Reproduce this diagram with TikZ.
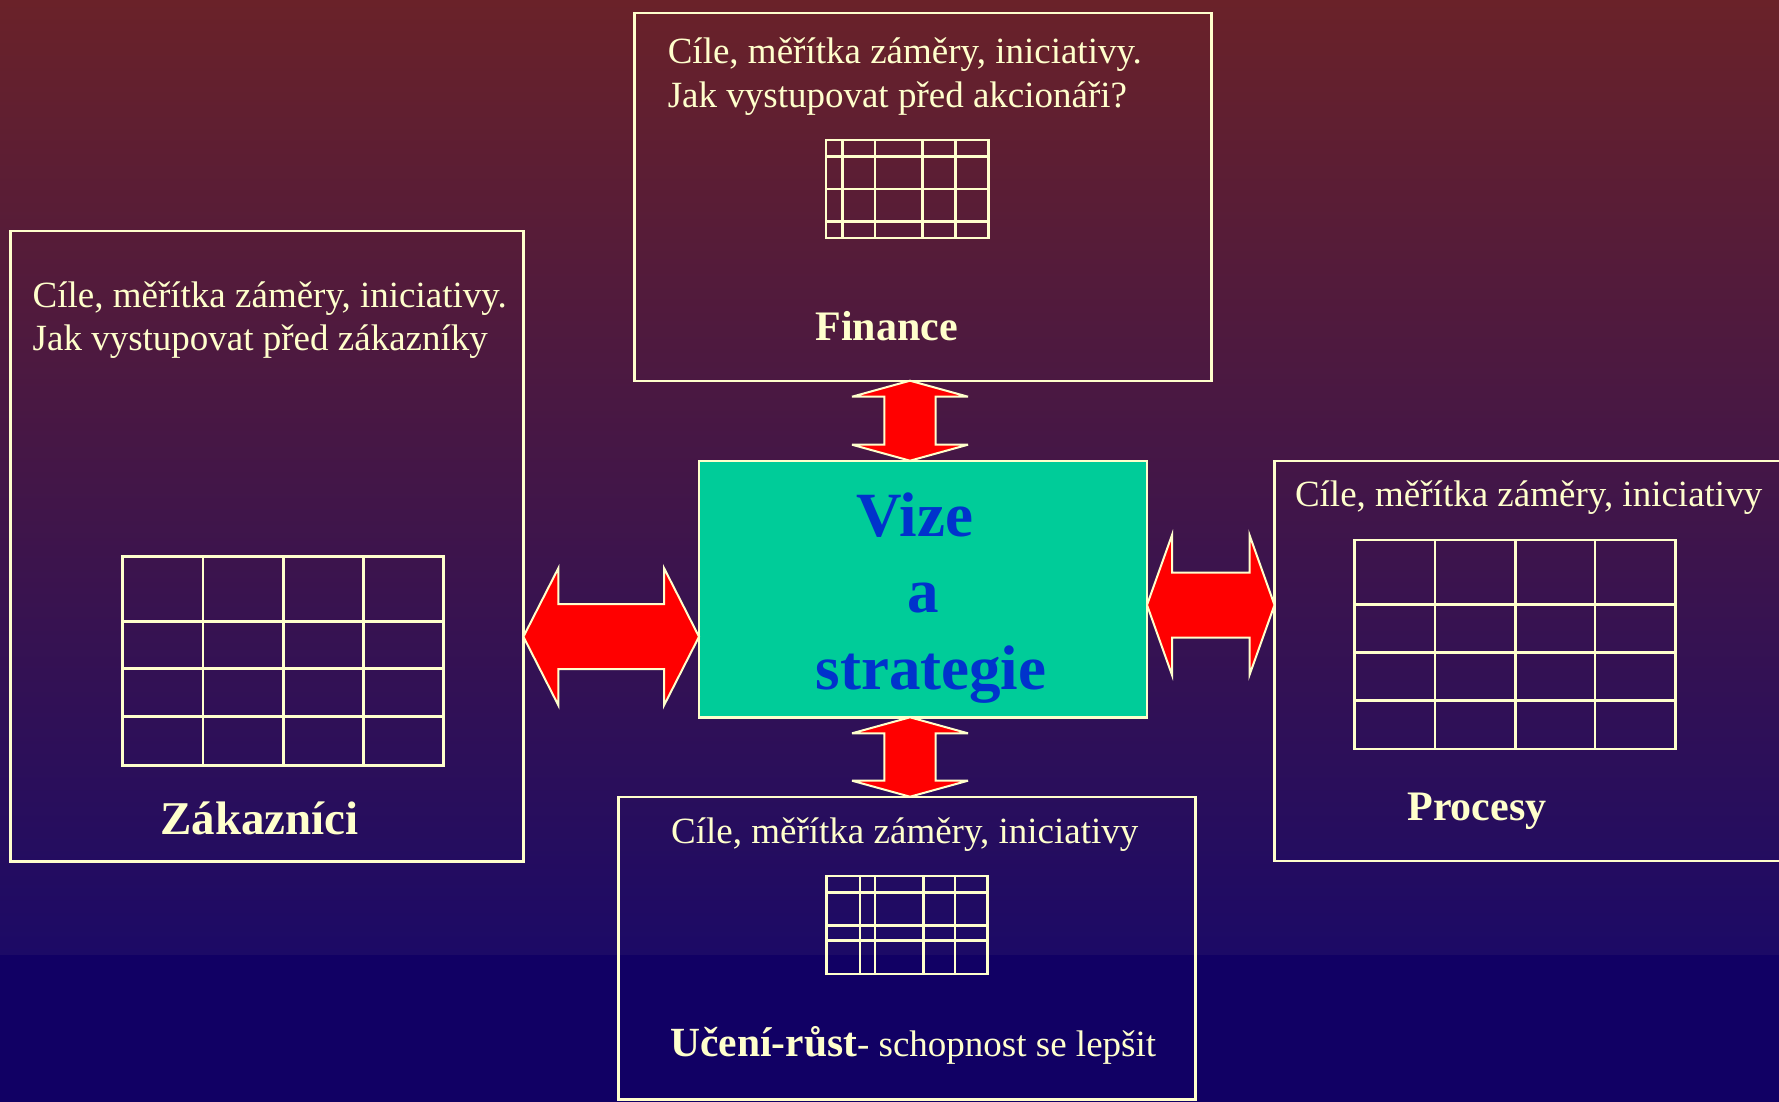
\documentclass[tikz,border=0pt]{standalone}
\usepackage{fontspec}
\setmainfont{Liberation Serif}
\usetikzlibrary{calc}
\definecolor{cream}{RGB}{255,255,204}
\definecolor{bgtop}{RGB}{106,34,41}
\definecolor{bgmid}{RGB}{28,10,102}
\definecolor{bgbot}{RGB}{17,0,100}
\definecolor{vizefill}{RGB}{0,204,153}
\definecolor{vizeblue}{RGB}{0,51,204}
% vertical double block arrow: #1 top tip, #2 bottom tip, #3 head length, #4 half head width, #5 half shaft width
\newcommand{\bsVarrow}[5]{%
  \draw[bigarrow] (#1) -- ($(#1)+(#4,#3)$) -- ($(#1)+(#5,#3)$) -- ($(#2)+(#5,-#3)$) -- ($(#2)+(#4,-#3)$) -- (#2)
   -- ($(#2)+(-#4,-#3)$) -- ($(#2)+(-#5,-#3)$) -- ($(#1)+(-#5,#3)$) -- ($(#1)+(-#4,#3)$) -- cycle;}
% horizontal double block arrow: #1 left tip, #2 right tip
\newcommand{\bsHarrow}[5]{%
  \draw[bigarrow] (#1) -- ($(#1)+(#3,-#4)$) -- ($(#1)+(#3,-#5)$) -- ($(#2)+(-#3,-#5)$) -- ($(#2)+(-#3,-#4)$) -- (#2)
   -- ($(#2)+(-#3,#4)$) -- ($(#2)+(-#3,#5)$) -- ($(#1)+(#3,#5)$) -- ($(#1)+(#3,#4)$) -- cycle;}
\tikzset{
  box/.style={draw=cream, line width=2.4pt, inner sep=0pt, outer sep=0pt, anchor=north west},
  txt/.style={text=cream, inner sep=0pt, outer sep=0pt, anchor=base west, font=\fontsize{37}{44}\selectfont},
  ttl/.style={text=cream, inner sep=0pt, outer sep=0pt, anchor=base, font=\fontsize{42}{50}\selectfont\bfseries},
  vz/.style={text=vizeblue, inner sep=0pt, outer sep=0pt, anchor=base, font=\fontsize{63}{76}\selectfont\bfseries},
  tbl/.style={draw=cream, line width=2.6pt},
  bigarrow/.style={fill=red, draw=cream, line width=2pt, miter limit=6},
}
\begin{document}
\begin{tikzpicture}[x=1pt, y=-1pt]
\useasboundingbox (0,0) rectangle (1779,1101);
\begin{scope}
\clip (0,0) rectangle (1779,1101);
% background
\shade[top color=bgtop, bottom color=bgmid] (0,0) rectangle (1779,955);
\fill[bgbot] (0,955) rectangle (1779,1101.5);

% boxes
\node[box, minimum width=576.8pt, minimum height=368pt] (fin) at (634.5,12.7) {};
\node[box, minimum width=513.1pt, minimum height=630.2pt] (cust) at (10.3,231.2) {};
\node[box, minimum width=530pt, minimum height=400pt] (proc) at (1274.5,460.7) {};
\node[box, minimum width=576.9pt, minimum height=302.6pt] (learn) at (618.6,796.7) {};
\node[box, fill=vizefill, minimum width=448pt, minimum height=256.6pt] (vize) at (699,460.7) {};

% Finance
\node[txt] (fin1) at (667.8,63.3) {Cíle, měřítka záměry, iniciativy.};
\node[txt] (fin2) at (667.8,107.3) {Jak vystupovat před akcionáři?};
\node[ttl] (fint) at (886.8,340) {Finance};
\draw[tbl] (825.9,140) rectangle (988.2,238);
\foreach \x in {842.3,874.9,922.7,955.2} \draw[tbl] (\x,140) -- (\x,238);
\foreach \y in {156.7,189,221.7} \draw[tbl] (825.9,\y) -- (988.2,\y);

% Zakaznici
\node[txt] (cust1) at (32.7,307) {Cíle, měřítka záměry, iniciativy.};
\node[txt] (cust2) at (32.7,350.6) {Jak vystupovat před zákazníky};
\node[ttl, font=\fontsize{47}{56}\selectfont\bfseries] (custt) at (259.4,834.4) {Zákazníci};
\draw[tbl] (122.2,556.6) rectangle (443.5,765.6);
\foreach \x in {202.8,283.4,363.3} \draw[tbl] (\x,556.6) -- (\x,765.6);
\foreach \y in {621.3,668.6,716.7} \draw[tbl] (122.2,\y) -- (443.5,\y);

% Procesy
\node[txt] (proc1) at (1295,506.7) {Cíle, měřítka záměry, iniciativy};
\node[ttl] (proct) at (1477,820) {Procesy};
\draw[tbl] (1354.3,540) rectangle (1675.7,749);
\foreach \x in {1435,1515.3,1595} \draw[tbl] (\x,540) -- (\x,749);
\foreach \y in {604.3,652.7,700.7} \draw[tbl] (1354.3,\y) -- (1675.7,\y);

% Uceni
\node[txt] (learn1) at (671.2,843.3) {Cíle, měřítka záměry, iniciativy};
\node[txt] (learnt) at (670.4,1056) {{\fontsize{41.5}{50}\selectfont\bfseries Učení-růst}- schopnost se lepšit};
\draw[tbl] (826.2,876) rectangle (987.5,974);
\foreach \x in {859.8,874.8,923.4,955.1} \draw[tbl] (\x,876) -- (\x,974);
\foreach \y in {892.3,925.7,940.7} \draw[tbl] (826.2,\y) -- (987.5,\y);

% Vize a strategie
\node[vz] (v1) at (915,536) {Vize};
\node[vz] (v2) at (923.5,612) {a};
\node[vz] (v3) at (931,689) {strategie};

% arrows
\coordinate (ta) at (910,0 |- fin.south);
\coordinate (tb) at (910,0 |- vize.north);
\bsVarrow{ta}{tb}{16}{58}{25.6}
\coordinate (ba) at (910,0 |- vize.south);
\coordinate (bb) at (910,0 |- learn.north);
\bsVarrow{ba}{bb}{16}{58}{25.7}
\coordinate (la) at (cust.east |- 0,636.7);
\coordinate (lb) at (vize.west |- 0,636.7);
\bsHarrow{la}{lb}{35}{68.7}{32.5}
\coordinate (ra) at (vize.east |- 0,605);
\coordinate (rb) at (proc.west |- 0,605);
\bsHarrow{ra}{rb}{25}{70}{32.5}
\end{scope}
\end{tikzpicture}
\end{document}
